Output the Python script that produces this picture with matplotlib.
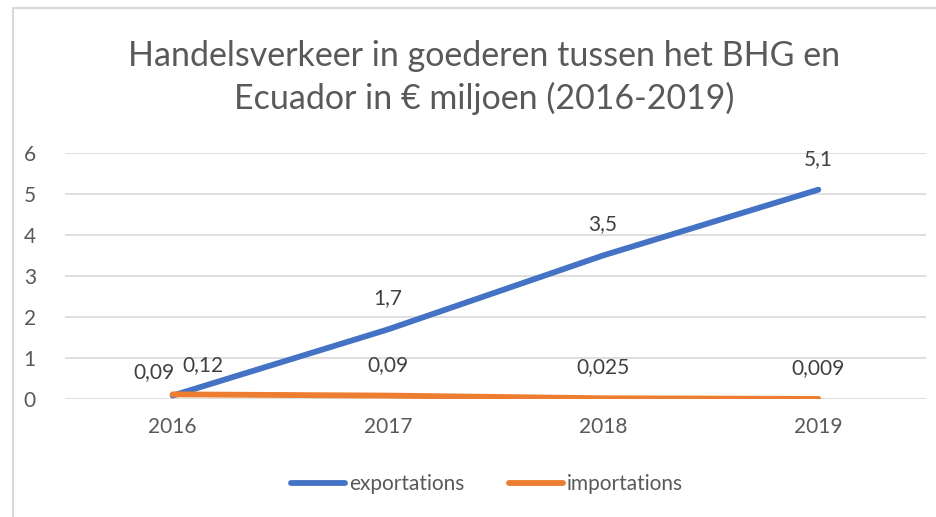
import matplotlib.pyplot as plt
from matplotlib.patches import Rectangle

# data
years = ['2016', '2017', '2018', '2019']
exportations = [0.09, 1.7, 3.5, 5.1]
importations = [0.12, 0.09, 0.025, 0.009]
exp_labels = ['0,09', '1,7', '3,5', '5,1']
imp_labels = ['0,12', '0,09', '0,025', '0,009']
yticks = [0, 1, 2, 3, 4, 5, 6]

plt.rcParams['font.family'] = ['Lato', 'DejaVu Sans']

blue = '#4472C4'
orange = '#ED7D31'
txt = '#595959'

fig = plt.figure(figsize=(9.36, 5.17), dpi=100)
ax = fig.add_axes([65 / 936, 1 - 399.3 / 517, (926 - 65) / 936, (399.3 - 152.7) / 517])

x = range(len(years))
ax.plot(x, exportations, color=blue, lw=4.2, solid_capstyle='round', label='exportations', zorder=3)
ax.plot(x, importations, color=orange, lw=4.2, solid_capstyle='round', label='importations', zorder=3)

ax.set_xlim(-0.5, len(years) - 0.5)
ax.set_ylim(0, 6)
ax.set_yticks(yticks)
ax.set_xticks(list(x))
ax.set_xticklabels(years)
ax.grid(axis='y', color='#D9D9D9', lw=1.2)
ax.set_axisbelow(True)
for s in ax.spines.values():
    s.set_visible(False)
ax.tick_params(length=0, labelsize=15, labelcolor=txt)
ax.tick_params(axis='y', pad=21)
ax.tick_params(axis='x', pad=13)

# data labels (excel style, above the points)
lab_kw = dict(textcoords='offset pixels', ha='center', va='center', fontsize=15, color='#404040')
for i in range(1, len(years)):
    ax.annotate(exp_labels[i], (i, exportations[i]), xytext=(0, 31), **lab_kw)
    ax.annotate(imp_labels[i], (i, importations[i]), xytext=(0, 31), **lab_kw)
# 2016 labels were moved by hand in the original
ax.annotate(exp_labels[0], (0, exportations[0]), xytext=(-19, 24), **lab_kw)
ax.annotate(imp_labels[0], (0, importations[0]), xytext=(30, 29), **lab_kw)

fig.text(484 / 936, 1 - 56 / 517, 'Handelsverkeer in goederen tussen het BHG en',
         ha='center', va='center', fontsize=24.5, color=txt)
fig.text(484 / 936, 1 - 98 / 517, 'Ecuador in € miljoen (2016-2019)',
         ha='center', va='center', fontsize=24.5, color=txt)

fig.legend(loc='center', bbox_to_anchor=(487 / 936, 1 - 484 / 517), ncol=2, frameon=False,
           fontsize=15, labelcolor=txt, handlelength=2.6, handletextpad=0.2, columnspacing=2.1)

# chart border
fig.patches.append(Rectangle((13 / 936, -0.02), 1, 1 - 8 / 517 + 0.02, transform=fig.transFigure,
                             fill=False, ec='#D9D9D9', lw=1.5))

fig.savefig('out.png', dpi=100)
